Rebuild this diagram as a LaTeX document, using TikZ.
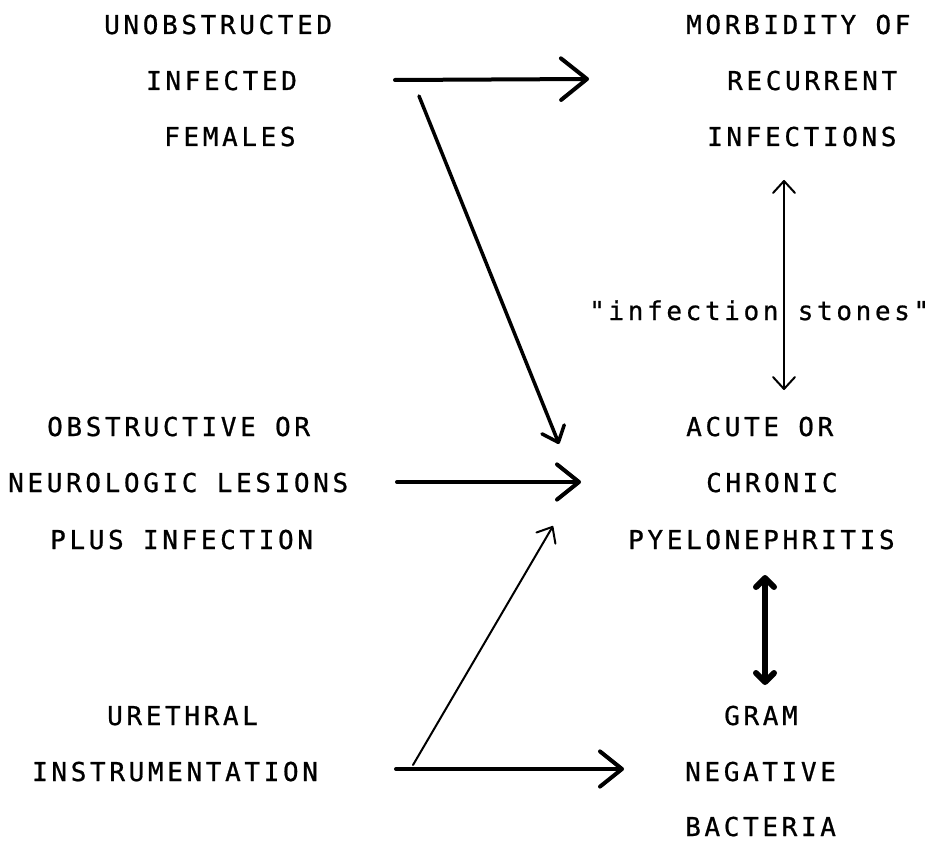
\documentclass[tikz,border=0pt]{standalone}
\usepackage{fontspec}
\usetikzlibrary{arrows.meta}
\newfontfamily\typefont[LetterSpace=14, FakeBold=0.8]{DejaVu Sans Mono}

\tikzset{
  txt/.style={anchor=base west, inner sep=0pt, font=\typefont\fontsize{26pt}{30pt}\selectfont},
  heavy/.style={line width=4pt, line cap=round, line join=round},
  thin/.style={line width=2pt, line cap=round, line join=round},
  barb/.style={-{Straight Barb[length=#1, width=1.6*#1, round]}},
}

\begin{document}
\begin{tikzpicture}[x=1pt, y=-1pt]
\useasboundingbox (0,0) rectangle (934,842);

% causes (left column)
\node[txt] (unob)  at (104,34)  {UNOBSTRUCTED};
\node[txt] (infd)  at (146,90)  {INFECTED};
\node[txt] (fem)   at (164,146) {FEMALES};

\node[txt] (obst)  at (47,436)  {OBSTRUCTIVE OR};
\node[txt] (neuro) at (8,492)   {NEUROLOGIC LESIONS};
\node[txt] (plus)  at (50,549)  {PLUS INFECTION};

\node[txt] (ureth) at (107,725) {URETHRAL};
\node[txt] (instr) at (32,781)  {INSTRUMENTATION};

% consequences (right column)
\node[txt] (morb)  at (686,34)  {MORBIDITY OF};
\node[txt] (recur) at (727,90)  {RECURRENT};
\node[txt] (infs)  at (707,146) {INFECTIONS};

\node[txt] (stones) at (589,320) {"infection stones"};

\node[txt] (acute) at (686,436) {ACUTE OR};
\node[txt] (chron) at (706,492) {CHRONIC};
\node[txt] (pyelo) at (628,549) {PYELONEPHRITIS};

\node[txt] (gram)  at (724,725) {GRAM};
\node[txt] (neg)   at (685,781) {NEGATIVE};
\node[txt] (bact)  at (685,836) {BACTERIA};

% connector end points
\coordinate (f1) at (395,80);   \coordinate (t1) at (589,79);
\coordinate (f2) at (419,96);   \coordinate (t2) at (559,444);
\coordinate (f3) at (397,482);  \coordinate (t3) at (581,482);
\coordinate (f4) at (413,765);  \coordinate (t4) at (553,526);
\coordinate (f5) at (396,769);  \coordinate (t5) at (624,769);
\coordinate (s1) at (784,180);  \coordinate (s2) at (784,390);
\coordinate (g1) at (765,575);  \coordinate (g2) at (765,685);

% arrows
\draw[heavy, barb=26pt] (f1) -- (t1);
\draw[heavy, line width=3.5pt, -{Straight Barb[length=14pt, width=24pt, round]}] (f2) -- (t2);
\draw[heavy, barb=22pt] (f3) -- (t3);
\draw[thin, -{Straight Barb[length=13pt, width=22pt, round]}] (f4) -- (t4);
\draw[heavy, barb=22pt] (f5) -- (t5);
\draw[thin, {Straight Barb[length=12pt, width=22pt, round]}-{Straight Barb[length=12pt, width=22pt, round]}] (s1) -- (s2);
\draw[heavy, line width=6pt, {Straight Barb[length=9pt, width=18pt, round]}-{Straight Barb[length=9pt, width=18pt, round]}] (g1) -- (g2);
\end{tikzpicture}
\end{document}
